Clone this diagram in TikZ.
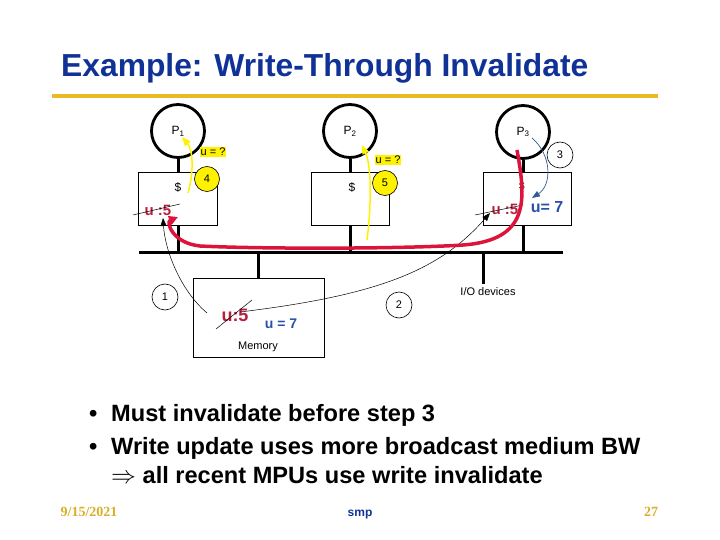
\documentclass[tikz,border=0pt]{standalone}
\usepackage{fontspec}
\setmainfont{Liberation Sans}
\newfontfamily\footserif{Liberation Serif}
\usetikzlibrary{positioning,arrows.meta}
\definecolor{titleblue}{RGB}{16,50,150}
\definecolor{rulegold}{RGB}{235,185,35}
\definecolor{footgold}{RGB}{215,175,40}
\definecolor{valred}{RGB}{185,30,60}
\definecolor{curvered}{RGB}{220,20,60}
\definecolor{valblue}{RGB}{40,80,170}
\definecolor{stepblue}{RGB}{50,90,140}
\tikzset{
  proc/.style={draw, circle, line width=2.8pt, minimum size=53pt, inner sep=0pt, font=\fontsize{12}{12}\selectfont},
  cachebox/.style={draw, line width=0.8pt, minimum height=53pt, inner sep=0pt},
  stemline/.style={line width=3pt},
  stepno/.style={draw, circle, line width=0.6pt, minimum size=26pt, inner sep=0pt, font=\fontsize{11}{11}\selectfont},
  askbox/.style={fill=yellow, inner sep=1pt, font=\fontsize{11}{11}\selectfont},
  oldval/.style={text=valred, inner sep=0pt, font=\fontsize{15}{15}\bfseries},
  newval/.style={text=valblue, inner sep=0pt, font=\fontsize{16}{16}\bfseries},
  strike/.style={line width=0.5pt},
  readarc/.style={line width=0.5pt, -{Triangle[length=8pt,width=6pt]}},
  bullettext/.style={anchor=base west, inner sep=0pt, align=left, font=\fontsize{23.6}{29}\bfseries}
}
\begin{document}
\begin{tikzpicture}[x=1pt,y=-1pt]
\useasboundingbox (0,0) rectangle (720,540);

\node[anchor=base west, inner sep=0pt, text=titleblue, font=\fontsize{31.8}{31.8}\bfseries] (title) at (61,77) {Example: Write-Through Invalidate};
\draw[rulegold, line width=3.5pt] (52,96) -- (658,96);

% processors and caches
\node[proc] (p1) at (178,131) {P\textsubscript{1}};
\node[proc] (p2) at (350,131) {P\textsubscript{2}};
\node[proc] (p3) at (523,132) {P\textsubscript{3}};
\node[cachebox, minimum width=79pt, below=13pt of p1] (c1) {};
\node[cachebox, minimum width=78pt, below=13pt of p2] (c2) {};
\node[cachebox, minimum width=88pt, below=12pt of p3, xshift=4pt] (c3) {};
\node[font=\fontsize{12}{12}\selectfont] (d1) at (178,187) {\$};
\node[font=\fontsize{12}{12}\selectfont] (d2) at (352,187) {\$};
\node[font=\fontsize{10}{10}\selectfont] (d3) at (522,186) {\$};

% bus
\coordinate (busL) at (139,252);
\coordinate (busR) at (563,252);
\coordinate (iotop) at (483,252);
\draw[stemline] (busL) -- (busR);
\draw[stemline] (p1) -- (c1);
\draw[stemline] (p2) -- (c2);
\draw[stemline] (p3.south) -- (p3.south |- c3.north);
\draw[stemline] (c1.south) -- (c1.south |- busL);
\draw[stemline] (c2.south) -- (c2.south |- busL);
\draw[stemline] (p3.south |- c3.south) -- (p3.south |- busL);

% memory and io
\node[cachebox, minimum width=131pt, minimum height=79pt] (mem) at (258.5,317.5) {};
\draw[stemline] (mem.north |- busL) -- (mem.north);
\node[font=\fontsize{11}{11}\selectfont] (memlbl) at (258,347) {Memory};
\node[anchor=north, font=\fontsize{11}{11}\selectfont] (iolbl) at (488,284) {I/O devices};
\draw[stemline] (iotop) -- (iotop |- iolbl.north);

% values
\node[oldval] (v1) at (158,210) {u :5};
\node[oldval] (v3) at (505,209) {u :5};
\node[newval] (w3) at (547,207) {u= 7};
\node[oldval, font=\fontsize{18}{18}\bfseries] (vm) at (235,315) {u:5};
\node[newval, font=\fontsize{14}{14}\bfseries] (wm) at (281,324) {u = 7};
\draw[strike] ([shift={(-25,5)}]v1.center) -- ([shift={(22,-6)}]v1.center);
\draw[strike] ([shift={(-30,6)}]v3.center) -- ([shift={(18,-4)}]v3.center);
\draw[strike] ([shift={(-19,14)}]vm.center) -- ([shift={(17,-15)}]vm.center);

% steps
\node[stepno] (s1) at (165,297) {1};
\node[stepno] (s2) at (399,305) {2};
\node[stepno] (s3) at (560,155) {3};
\node[stepno, fill=yellow, minimum size=25pt] (s4) at (207,179) {4};
\node[stepno, fill=yellow, minimum size=25pt] (s5) at (385,183) {5};
\node[askbox] (q1) at (213,152) {u = ?};
\node[askbox] (q2) at (388,160) {u = ?};

\coordinate (m1) at (207,313);
\coordinate (t1) at (163,218);
\draw[readarc] (m1) .. controls (180,290) and (165,250) .. (t1);
\coordinate (m2) at (240,312);
\coordinate (t2) at (490,213);
\draw[readarc] (m2) .. controls (380,295) and (440,270) .. (t2);
\coordinate (b3s) at (532,138);
\coordinate (b3e) at (532,198);
\draw[stepblue, line width=0.7pt, -{Triangle[length=8pt,width=6pt]}] (b3s) .. controls (552,155) and (552,185) .. (b3e);

% invalidate path and misses
\coordinate (r3) at (517,150);
\coordinate (r1) at (178,217);
\draw[curvered, line width=3.5pt, -{Triangle[length=9pt,width=9pt]}] (r3) .. controls (526,200) and (530,240) .. (463,245) .. controls (400,249) and (260,249) .. (200,246) .. controls (172,243) and (166,222) .. (r1);
\coordinate (y1s) at (188,193);
\coordinate (y1e) at (182,137);
\draw[yellow, line width=1.5pt, -{Triangle[length=9pt,width=7pt]}] (y1s) .. controls (194,172) and (193,150) .. (y1e);
\coordinate (y2s) at (367,240);
\coordinate (y2e) at (362,145);
\draw[yellow, line width=1.5pt, -{Triangle[length=9pt,width=7pt]}] (y2s) .. controls (372,200) and (371,165) .. (y2e);

% bullets
\node[bullettext] (dot1) at (89,421) {\textbullet};
\node[bullettext] (b1) at (111,421) {Must invalidate before step 3};
\node[bullettext] (dot2) at (89,454) {\textbullet};
\node[bullettext] (b2) at (111,483) {Write update uses more broadcast medium BW\\$\Rightarrow$ all recent MPUs use write invalidate};

% footer
\node[anchor=base, text=footgold, font=\footserif\fontsize{14}{14}\bfseries] (date) at (89,516) {9/15/2021};
\node[anchor=base, text=titleblue, font=\fontsize{12}{12}\bfseries] (smp) at (360,516) {smp};
\node[anchor=base, text=footgold, font=\footserif\fontsize{14}{14}\bfseries] (pg) at (651,516) {27};
\end{tikzpicture}
\end{document}
